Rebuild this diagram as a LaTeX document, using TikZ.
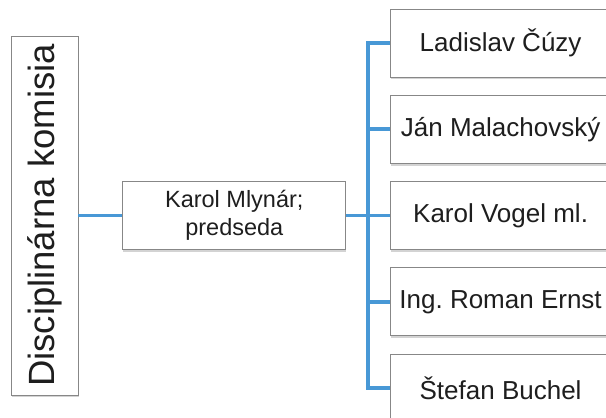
\documentclass[tikz,border=0pt]{standalone}
\usepackage{fontspec}
\setmainfont{Liberation Sans}
\usetikzlibrary{positioning,shadows}
\definecolor{LinkBlue}{RGB}{72,152,214}
\definecolor{BoxGray}{RGB}{135,135,135}
\definecolor{TextDark}{RGB}{30,30,30}
\tikzset{
  kbox/.style={draw=BoxGray,fill=white,line width=0.8pt,
               drop shadow={shadow xshift=0.6pt,shadow yshift=-2.4pt,opacity=0.35},
               text=TextDark,align=center,inner sep=0pt},
  cbox/.style={kbox,minimum width=67pt,minimum height=359pt,
               font=\fontsize{36.5}{40}\selectfont},
  pbox/.style={kbox,minimum width=223pt,minimum height=68pt,
               font=\fontsize{23.5}{27.5}\selectfont},
  mbox/.style={kbox,minimum width=220pt,minimum height=68pt,
               font=\fontsize{26}{30}\selectfont},
  link/.style={LinkBlue,line width=3.6pt},
}

\begin{document}
\begin{tikzpicture}[x=1pt,y=-1pt,node distance=17.5pt]
\useasboundingbox (0,0) rectangle (606,418);
\clip (0,0) rectangle (606,418);
\node[cbox] (komisia) at (44.5,215.5) {\rotatebox{90}{Disciplinárna komisia}};
\node[pbox, right=44pt of komisia] (predseda) {Karol Mlynár;\\predseda};
\node[mbox, right=44pt of predseda] (clen3) {Karol Vogel ml.};
\node[mbox, above=of clen3] (clen2) {Ján Malachovský};
\node[mbox, above=of clen2] (clen1) {Ladislav Čúzy};
\node[mbox, below=of clen3] (clen4) {Ing.\ Roman Ernst};
\node[mbox, below=of clen4] (clen5) {Štefan Buchel};
\coordinate[right=22pt of predseda] (bus);

\draw[link] (komisia.east) -- (predseda.west);
\draw[link] (predseda.east) -- (bus);
\draw[link] (clen1.west) -| (bus |- clen5.west) -- (clen5.west);
\foreach \m in {clen2,clen3,clen4}
  \draw[link] (bus |- \m.west) -- (\m.west);
\end{tikzpicture}
\end{document}
